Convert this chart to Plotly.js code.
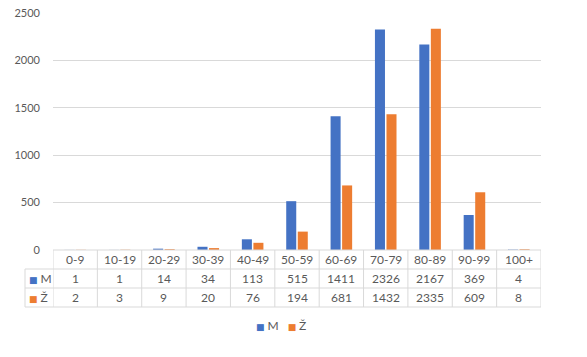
<!DOCTYPE html>
<html>
<head>
<meta charset="utf-8">
<script src="https://cdn.plot.ly/plotly-3.0.1.min.js"></script>
<style>html,body{margin:0;padding:0;background:#fff;}#chart{width:587px;height:357px;}</style>
</head>
<body>
<div id="chart"></div>
<script>
const categories = ["0-9","10-19","20-29","30-39","40-49","50-59","60-69","70-79","80-89","90-99","100+"];
const seriesM = [1,1,14,34,113,515,1411,2326,2167,369,4];
const seriesZ = [2,3,9,20,76,194,681,1432,2335,609,8];
const seriesNames = ["M","Ž"];
const colors = ["#4472C4","#ED7D31"];

const W = 587, H = 357;
const mL = 53, mR = 46, mT = 13, mB = 107;
const plotH = H - mT - mB;
const pxToPaperY = px => (mT + plotH - px) / plotH;
const pxToPaperX = px => (px - mL) / (W - mL - mR);

const textColor = "#595959";
const gridColor = "#D9D9D9";
const fontFam = "Lato, 'Open Sans', sans-serif";

const traces = [
  {type:"bar", name:seriesNames[0], x:categories, y:seriesM, marker:{color:colors[0]}, hoverinfo:"x+y+name", showlegend:false},
  {type:"bar", name:seriesNames[1], x:categories, y:seriesZ, marker:{color:colors[1]}, hoverinfo:"x+y+name", showlegend:false}
];

// table geometry (pixels)
const rowY = [250, 269, 288, 307];
const yTop = pxToPaperY(rowY[0]);
const yR1 = pxToPaperY(rowY[1]);
const yR2 = pxToPaperY(rowY[2]);
const yBot = pxToPaperY(rowY[3]);
const xLeft = pxToPaperX(25);

const shapes = [];
const lineStyle = {color: gridColor, width: 1};
shapes.push({type:"line", xref:"paper", yref:"paper", x0:0, x1:1, y0:yTop, y1:yTop, line:lineStyle});
[yR1, yR2, yBot].forEach(y => shapes.push({type:"line", xref:"paper", yref:"paper", x0:xLeft, x1:1, y0:y, y1:y, line:lineStyle}));
for (let i = 0; i <= categories.length; i++) {
  shapes.push({type:"line", xref:"x", yref:"paper", x0:i-0.5, x1:i-0.5, y0:yTop, y1:yBot, line:lineStyle});
}
shapes.push({type:"line", xref:"paper", yref:"paper", x0:xLeft, x1:xLeft, y0:yR1, y1:yBot, line:lineStyle});

const annotations = [];
const cellFont = {family: fontFam, size: 12, color: textColor};
const midY = (a,b) => (a+b)/2;
categories.forEach((c, i) => {
  annotations.push({xref:"x", yref:"paper", x:c, y:midY(yTop,yR1), text:c, showarrow:false, font:cellFont, xanchor:"center", yanchor:"middle"});
  annotations.push({xref:"x", yref:"paper", x:c, y:midY(yR1,yR2), text:String(seriesM[i]), showarrow:false, font:cellFont, xanchor:"center", yanchor:"middle"});
  annotations.push({xref:"x", yref:"paper", x:c, y:midY(yR2,yBot), text:String(seriesZ[i]), showarrow:false, font:cellFont, xanchor:"center", yanchor:"middle"});
});
const key = k => '<span style="color:' + colors[k] + ';font-family:DejaVu Sans;font-size:9px">■ </span>' + seriesNames[k];
[[yR1,yR2],[yR2,yBot]].forEach((r, k) => {
  annotations.push({xref:"paper", yref:"paper", x:pxToPaperX(27), y:midY(r[0],r[1]), xanchor:"left", yanchor:"middle", showarrow:false,
    text:key(k), font:cellFont});
});
// legend below the table
annotations.push({xref:"paper", yref:"paper", x:pxToPaperX(281), y:pxToPaperY(325), xanchor:"center", yanchor:"middle", showarrow:false,
  text: key(0) + '   ' + key(1), font: {family: fontFam, size: 12, color: textColor}});

const layout = {
  width: W, height: H,
  margin: {l: mL, r: mR, t: mT, b: mB, pad: 0},
  paper_bgcolor: "#fff", plot_bgcolor: "#fff",
  font: {family: fontFam, size: 12, color: textColor},
  barmode: "group",
  bargap: 0.48,
  bargroupgap: 0.13,
  showlegend: false,
  xaxis: {type: "category", showticklabels: false, ticks: "", showgrid: false, zeroline: false, showline: false,
    range: [-0.5, categories.length - 0.5], fixedrange: true},
  yaxis: {range: [0, 2500], dtick: 500, tick0: 0, showgrid: true, gridcolor: gridColor, gridwidth: 1,
    zeroline: false, showline: false, ticks: "", ticklabelstandoff: 12,
    tickfont: {family: fontFam, size: 11, color: textColor}, fixedrange: true},
  shapes: shapes,
  annotations: annotations
};

Plotly.newPlot("chart", traces, layout, {displayModeBar: false, staticPlot: true});
</script>
</body>
</html>
